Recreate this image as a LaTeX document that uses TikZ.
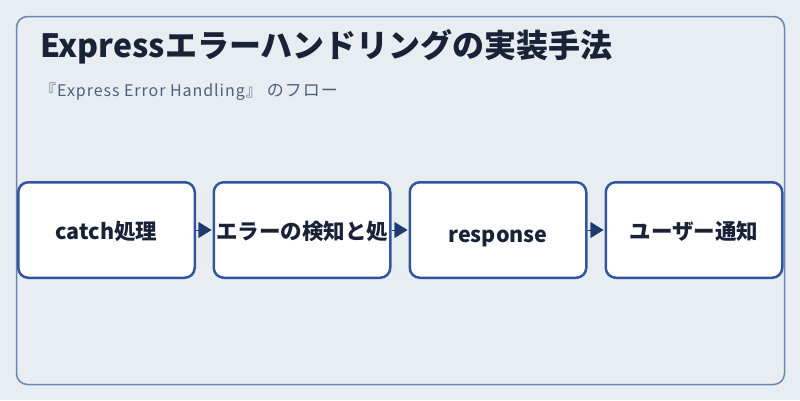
\documentclass[tikz,border=0pt]{standalone}
\usepackage{fontspec}
\setmainfont{Noto Sans CJK JP}
\newfontfamily\subfont[LetterSpace=6]{Noto Sans CJK JP}
\usetikzlibrary{arrows.meta}
\definecolor{bgc}{HTML}{E8EDF2}
\definecolor{framec}{HTML}{6B84B0}
\definecolor{boxc}{HTML}{3355A0}
\definecolor{arrc}{HTML}{1E3A6E}
\definecolor{titlec}{HTML}{1A2238}
\definecolor{subc}{HTML}{4F607E}
\tikzset{
  stepbox/.style={draw=boxc, line width=2.5pt, fill=white, rounded corners=10pt,
    minimum width=176.5pt, minimum height=95.5pt, inner sep=0pt,
    text height=20pt, text depth=0.5pt,
    font=\fontsize{21.5pt}{24pt}\selectfont\bfseries, text=titlec},
  flow/.style={draw=arrc, line width=0.4pt, -{Triangle[length=13pt,width=16pt,fill=arrc]}, shorten >=1pt},
}
\begin{document}
\begin{tikzpicture}[x=1pt,y=-1pt]
\useasboundingbox (0,0) rectangle (800,400);
\fill[bgc] (0,0) rectangle (800,400);
\draw[framec, line width=1.5pt, rounded corners=11pt] (16.5,16.5) rectangle (784.5,384.5);
\node[anchor=base west, inner sep=0pt, text=titlec, font=\fontsize{32pt}{36pt}\selectfont\bfseries] (title) at (40,57) {Expressエラーハンドリングの実装手法};
\node[anchor=base west, inner sep=0pt, text=subc, font=\subfont\fontsize{16pt}{20pt}\selectfont] (sub) at (40,96) {『Express Error Handling』\hspace{5pt}{\fontsize{17pt}{20pt}\selectfont のフロー}};
\node[stepbox] (b1) at (106.5,230) {catch処理};
\node[stepbox] (b2) at (302,230) {エラーの検知と処};
\node[stepbox, text height=24pt, text depth=0pt] (b3) at (498,230) {response};
\node[stepbox] (b4) at (694,230) {ユーザー通知};
\draw[flow] (b1.east) -- (b2.west);
\draw[flow] (b2.east) -- (b3.west);
\draw[flow] (b3.east) -- (b4.west);
\end{tikzpicture}
\end{document}
